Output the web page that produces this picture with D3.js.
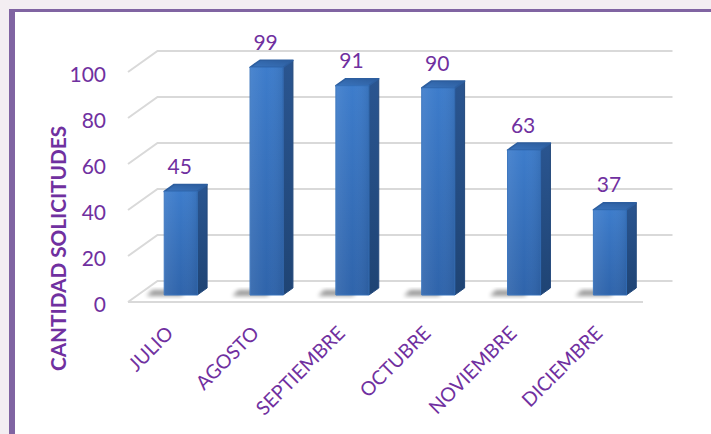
<!DOCTYPE html>
<html><head><meta charset="utf-8">
<script src="https://cdn.jsdelivr.net/npm/d3@7"></script>
<style>html,body{margin:0;padding:0;background:#fff;}svg{display:block;}</style>
</head><body>
<svg id="chart" width="711" height="434"></svg>
<script>
const months = ["JULIO","AGOSTO","SEPTIEMBRE","OCTUBRE","NOVIEMBRE","DICIEMBRE"];
const values = [45, 99, 91, 90, 63, 37];
const yTicks = [0, 20, 40, 60, 80, 100];
const axisTitle = "CANTIDAD SOLICITUDES";

const svg = d3.select("#chart");
const W = 711, H = 434;
const purple = "#7030a0";
const FONT = "Lato, 'Open Sans', sans-serif";

// page background & frame
svg.append("rect").attr("width", W).attr("height", H).attr("fill", "#f3eef2");
svg.append("rect").attr("x", 15).attr("y", 12).attr("width", W - 15).attr("height", H - 12).attr("fill", "#ffffff");
svg.append("rect").attr("x", 9).attr("y", 9).attr("width", 6).attr("height", H - 9).attr("fill", "#8064a2");
svg.append("rect").attr("x", 9).attr("y", 9).attr("width", W - 9).attr("height", 3).attr("fill", "#8064a2");

const defs = svg.append("defs");
const gFront = defs.append("linearGradient").attr("id", "gFront").attr("x1", 0).attr("y1", 0).attr("x2", 0).attr("y2", 1);
gFront.append("stop").attr("offset", 0).attr("stop-color", "#3d7ccb");
gFront.append("stop").attr("offset", 1).attr("stop-color", "#2f64ab");
const gFrontH = defs.append("linearGradient").attr("id", "gFrontH").attr("x1", 0).attr("y1", 0).attr("x2", 1).attr("y2", 0);
gFrontH.append("stop").attr("offset", 0).attr("stop-color", "#ffffff").attr("stop-opacity", 0.08);
gFrontH.append("stop").attr("offset", 0.5).attr("stop-color", "#ffffff").attr("stop-opacity", 0.0);
gFrontH.append("stop").attr("offset", 1).attr("stop-color", "#000000").attr("stop-opacity", 0.08);
const gSide = defs.append("linearGradient").attr("id", "gSide").attr("x1", 0).attr("y1", 0).attr("x2", 0).attr("y2", 1);
gSide.append("stop").attr("offset", 0).attr("stop-color", "#2a5590");
gSide.append("stop").attr("offset", 1).attr("stop-color", "#1f4474");
const gTop = defs.append("linearGradient").attr("id", "gTop").attr("x1", 0).attr("y1", 1).attr("x2", 1).attr("y2", 0);
gTop.append("stop").attr("offset", 0).attr("stop-color", "#3a74bd");
gTop.append("stop").attr("offset", 1).attr("stop-color", "#2c5c9c");
const blur = defs.append("filter").attr("id", "shadowBlur").attr("x", "-50%").attr("y", "-50%").attr("width", "200%").attr("height", "200%");
blur.append("feGaussianBlur").attr("stdDeviation", 2.2);

// 3D projection
const x = d3.scaleBand().domain(months).range([128, 643]).padding(0);
const y = d3.scaleLinear().domain([0, 100]).range([302, 72]);
const DX = 29.5, DY = 21;
const proj = (px, v, d) => [px + d * DX, y(v) - d * DY];
const line = d3.line();

// gridlines
const grid = svg.append("g");
yTicks.forEach(t => {
  grid.append("path")
    .attr("d", line([proj(128, t, 0), proj(128, t, 1), proj(643, t, 1)]))
    .attr("fill", "none").attr("stroke", "#d9d9d9").attr("stroke-width", 2);
});
grid.append("path")
  .attr("d", line([proj(128, 0, 0), proj(643, 0, 0)]))
  .attr("fill", "none").attr("stroke", "#d9d9d9").attr("stroke-width", 2);

// y tick labels
svg.append("g").selectAll("text").data(yTicks).join("text")
  .attr("x", 106).attr("y", d => y(d) + 1)
  .attr("text-anchor", "end").attr("dominant-baseline", "central")
  .attr("font-family", FONT).attr("font-size", 21).attr("fill", purple)
  .text(d => d);

// axis title
svg.append("text")
  .attr("transform", "translate(66,248.5) rotate(-90)")
  .attr("text-anchor", "middle")
  .attr("font-family", FONT).attr("font-weight", "bold").attr("font-size", 21.5)
  .attr("fill", purple)
  .attr("textLength", 245).attr("lengthAdjust", "spacingAndGlyphs")
  .text(axisTitle);

// bars
const d1 = 1 / 3, d2 = 2 / 3;
const bw = x.bandwidth() * 0.385;
const data = months.map((m, i) => ({ m, v: values[i] }));
const bars = svg.append("g").selectAll("g").data(data).join("g");
bars.each(function (d) {
  const g = d3.select(this);
  const x0 = x(d.m) + (x.bandwidth() - bw) / 2, x1 = x0 + bw;
  // floor shadow
  const fy = y(0) - d1 * DY;
  g.append("path")
    .attr("d", line([[x0 - 8, fy + 1], [x1 - 6, fy + 1], [x1 - 2, fy - 5], [x0 - 2, fy - 5]]) + "Z")
    .attr("fill", "#000").attr("opacity", 0.4).attr("filter", "url(#shadowBlur)");
  const front = [proj(x0, 0, d1), proj(x1, 0, d1), proj(x1, d.v, d1), proj(x0, d.v, d1)];
  const side = [proj(x1, 0, d1), proj(x1, 0, d2), proj(x1, d.v, d2), proj(x1, d.v, d1)];
  const top = [proj(x0, d.v, d1), proj(x1, d.v, d1), proj(x1, d.v, d2), proj(x0, d.v, d2)];
  g.append("path").attr("d", line(side) + "Z").attr("fill", "url(#gSide)")
    .attr("stroke", "#24497c").attr("stroke-width", 1).attr("stroke-linejoin", "round");
  g.append("path").attr("d", line(top) + "Z").attr("fill", "url(#gTop)")
    .attr("stroke", "#2d5e9f").attr("stroke-width", 1.6).attr("stroke-linejoin", "round");
  g.append("path").attr("d", line(front) + "Z").attr("fill", "url(#gFront)")
    .attr("stroke", "#3470bb").attr("stroke-width", 1).attr("stroke-linejoin", "round");
  g.append("path").attr("d", line(front) + "Z").attr("fill", "url(#gFrontH)");
  // value label
  const cx = (x0 + x1) / 2 + d1 * DX;
  g.append("text")
    .attr("x", cx - 1).attr("y", proj(x0, d.v, d2)[1] - 10.5)
    .attr("text-anchor", "middle")
    .attr("font-family", FONT).attr("font-size", 21).attr("fill", purple)
    .text(d.v);
});

// x labels
svg.append("g").selectAll("text").data(months).join("text")
  .attr("transform", d => `translate(${x(d) + x.bandwidth() / 2 + 3.6},334.5) rotate(-45)`)
  .attr("text-anchor", "end")
  .attr("font-family", FONT).attr("font-size", 19.5).attr("fill", purple)
  .text(d => d);
</script>
</body></html>
